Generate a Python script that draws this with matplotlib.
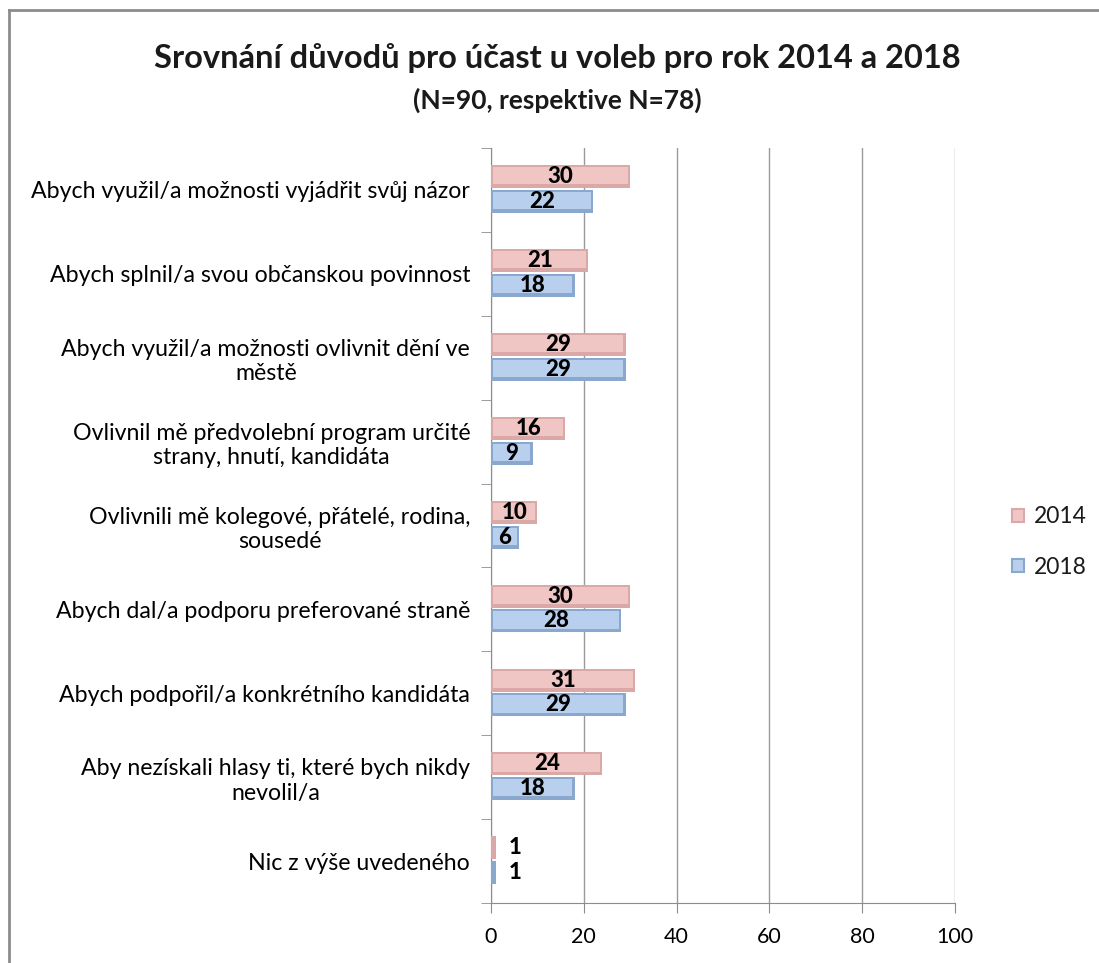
import matplotlib
matplotlib.use("Agg")
import matplotlib.pyplot as plt
from matplotlib.patches import Patch
from matplotlib.lines import Line2D
import numpy as np

plt.rcParams['font.family'] = ['Lato', 'DejaVu Sans']
plt.rcParams['text.color'] = '#1a1a1a'

# data
kategorie = [
    "Abych využil/a možnosti vyjádřit svůj názor",
    "Abych splnil/a svou občanskou povinnost",
    "Abych využil/a možnosti ovlivnit dění ve\nměstě",
    "Ovlivnil mě předvolební program určité\nstrany, hnutí, kandidáta",
    "Ovlivnili mě kolegové, přátelé, rodina,\nsousedé",
    "Abych dal/a podporu preferované straně",
    "Abych podpořil/a konkrétního kandidáta",
    "Aby nezískali hlasy ti, které bych nikdy\nnevolil/a",
    "Nic z výše uvedeného",
]
hodnoty_2014 = [30, 21, 29, 16, 10, 30, 31, 24, 1]
hodnoty_2018 = [22, 18, 29, 9, 6, 28, 29, 18, 1]
roky = ["2014", "2018"]
x_ticks = [0, 20, 40, 60, 80, 100]

PINK_OUT = '#D9A8A7'
PINK_IN = '#F0C6C5'
BLUE_OUT = '#8AA7CE'
BLUE_IN = '#B8D0EE'

fig = plt.figure(figsize=(10.99, 9.63), dpi=100)
ax = fig.add_axes([0.4468, 0.0623, 0.869 - 0.4468, 0.8463 - 0.0623])

n = len(kategorie)
y = np.arange(n)
h = 0.275
dx = 0.5    # bevel inset along x (data units)
dy = 0.035  # bevel inset along y

series = [(hodnoty_2014, -h / 2 - 0.02, PINK_OUT, PINK_IN),
          (hodnoty_2018, h / 2 + 0.0, BLUE_OUT, BLUE_IN)]
for vals, off, c_out, c_in in series:
    vals = np.array(vals, dtype=float)
    ax.barh(y + off, vals, height=h, color=c_out, linewidth=0, zorder=3)
    inner = np.clip(vals - 2 * dx, 0, None)
    ax.barh(y + off - dy * 0.3, inner, left=dx, height=h - 2 * dy, color=c_in,
            linewidth=0, zorder=3.5)
    for i, v in enumerate(vals):
        if v > 3:
            ax.text(v / 2, i + off, str(int(v)), ha='center', va='center',
                    fontsize=16, fontweight='black', color='black', zorder=4)
        else:
            ax.text(v + 4.2, i + off, str(int(v)), ha='center', va='center',
                    fontsize=16, fontweight='black', color='black', zorder=4)

ax.set_xlim(0, 100)
ax.set_ylim(n - 0.5, -0.5)
ax.set_xticks(x_ticks)
ax.set_xticklabels([str(t) for t in x_ticks], fontsize=15.5)
ax.xaxis.grid(True, color='#9A9A9A', linewidth=1, zorder=0)
ax.set_axisbelow(True)

ax.set_yticks(y)
ax.set_yticklabels(kategorie, fontsize=16.7, ha='right', multialignment='center')
ax.tick_params(axis='y', length=0, pad=15)
ax.set_yticks(np.arange(n + 1) - 0.5, minor=True)
ax.tick_params(axis='y', which='minor', length=7, color='#8C8C8C', direction='out')
ax.tick_params(axis='x', length=7, color='#8C8C8C', direction='out', pad=10)

for s in ['top', 'right']:
    ax.spines[s].set_visible(False)
for s in ['left', 'bottom']:
    ax.spines[s].set_color('#8C8C8C')

# title
fig.text(0.507, 0.94, "Srovnání důvodů pro účast u voleb pro rok 2014 a 2018",
         ha='center', va='center', fontsize=23.5, fontweight='bold')
fig.text(0.507, 0.896, "(N=90, respektive N=78)", ha='center', va='center',
         fontsize=19, fontweight='bold')

# legend
handles = [Patch(facecolor=PINK_IN, edgecolor=PINK_OUT, linewidth=1.5),
           Patch(facecolor=BLUE_IN, edgecolor=BLUE_OUT, linewidth=1.5)]
fig.legend(handles, roky, loc='center left', bbox_to_anchor=(0.921, 0.437),
           frameon=False, fontsize=16.5, handlelength=0.5, handleheight=0.5,
           handletextpad=0.45, labelspacing=1.3, borderpad=0, borderaxespad=0)

# border around chart area
fig.add_artist(Line2D([0.0082, 1.0], [1 - 10 / 963, 1 - 10 / 963], color='#8C8C8C',
                      linewidth=2, transform=fig.transFigure))
fig.add_artist(Line2D([0.0082, 0.0082], [0.0, 1 - 10 / 963], color='#8C8C8C',
                      linewidth=2, transform=fig.transFigure))

fig.savefig("out.png", dpi=100)
